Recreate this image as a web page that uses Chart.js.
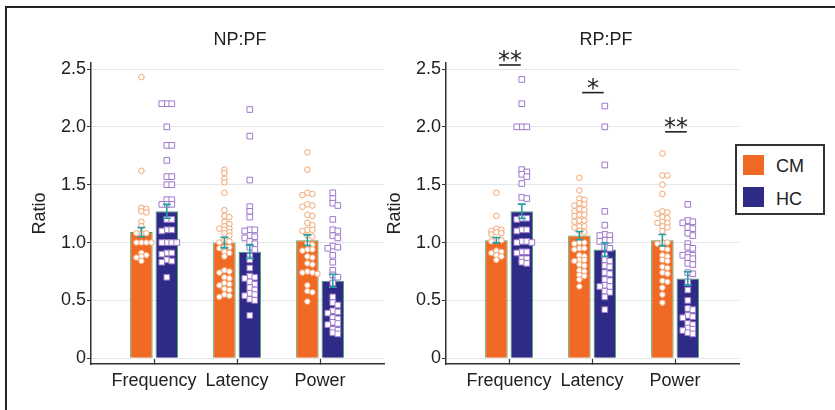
<!DOCTYPE html>
<html>
<head>
<meta charset="utf-8">
<script src="https://cdn.jsdelivr.net/npm/chart.js@4.4.1/dist/chart.umd.min.js"></script>
<style>
  html, body { margin: 0; padding: 0; background: #fff; overflow: hidden; }
  body { width: 835px; height: 410px; position: relative; font-family: "Liberation Sans", Arial, sans-serif; color: #222; }
  .frame { position: absolute; left: 5px; top: 6px; width: 900px; height: 500px; border-top: 2.5px solid #222; border-left: 2.5px solid #222; }
  canvas { position: absolute; top: 0; }
  .title { position: absolute; top: 28.5px; font-size: 18px; line-height: 21px; transform: translateX(-50%); white-space: nowrap; }
  .legend { position: absolute; left: 735px; top: 144px; width: 86px; height: 67px; border: 2px solid #333; background: #fff; }
  .swatch { position: absolute; left: 6px; width: 21px; height: 20px; }
  .legend span { position: absolute; left: 39px; font-size: 18px; line-height: 21px; }
</style>
</head>
<body>
<div class="frame"></div>
<canvas id="np-chart" width="400" height="410" style="left:0"></canvas>
<canvas id="rp-chart" width="400" height="410" style="left:355px"></canvas>
<div class="title" style="left:240px">NP:PF</div>
<div class="title" style="left:606px">RP:PF</div>
<div class="legend">
  <div class="swatch" style="top:9px;background:#F06A25"></div><span style="top:10px">CM</span>
  <div class="swatch" style="top:41px;background:#2E2B87"></div><span style="top:43px">HC</span>
</div>
<script>
const categories = ['Frequency', 'Latency', 'Power'];
const yTickValues = [0, 0.5, 1, 1.5, 2, 2.5];

// NP:PF bars (mean, sem)
const npMeanCM = [1.09, 1.00, 1.02];
const npSemCM = [0.04, 0.046, 0.046];
const npMeanHC = [1.27, 0.92, 0.67];
const npSemHC = [0.06, 0.058, 0.056];

// NP:PF individual subjects
const npFreqCM = [2.43, 1.62, 1.30, 1.29, 1.27, 1.26, 1.18, 1.14, 1.08, 1.08, 1.08, 1.0, 1.0, 1.0, 1.0, 0.91, 0.89, 0.88, 0.87, 0.84];
const npFreqHC = [2.20, 2.20, 2.20, 2.00, 1.84, 1.84, 1.71, 1.57, 1.57, 1.50, 1.50, 1.37, 1.37, 1.33, 1.33, 1.33, 1.20, 1.20, 1.11, 1.11, 1.10, 1.00, 1.00, 1.00, 1.00, 0.91, 0.91, 0.90, 0.85, 0.84, 0.83, 0.70];
const npLatCM = [1.63, 1.60, 1.55, 1.52, 1.43, 1.28, 1.23, 1.22, 1.18, 1.16, 1.14, 1.12, 1.12, 1.11, 1.09, 1.08, 1.06, 1.02, 1.01, 1.0, 0.96, 0.96, 0.95, 0.92, 0.91, 0.88, 0.76, 0.75, 0.74, 0.70, 0.69, 0.65, 0.64, 0.63, 0.60, 0.59, 0.55, 0.54, 0.53];
const npLatHC = [2.15, 1.92, 1.54, 1.31, 1.27, 1.22, 1.11, 1.11, 1.10, 1.06, 1.05, 1.04, 1.01, 0.99, 0.96, 0.94, 0.88, 0.85, 0.78, 0.71, 0.70, 0.69, 0.66, 0.64, 0.61, 0.59, 0.56, 0.55, 0.54, 0.51, 0.50, 0.37];
const npPowCM = [1.78, 1.63, 1.43, 1.42, 1.41, 1.33, 1.32, 1.31, 1.24, 1.23, 1.17, 1.15, 1.11, 1.11, 1.10, 1.06, 1.05, 0.99, 0.98, 0.94, 0.94, 0.93, 0.88, 0.87, 0.82, 0.81, 0.75, 0.74, 0.74, 0.73, 0.63, 0.58, 0.57, 0.49];
const npPowHC = [1.43, 1.38, 1.34, 1.32, 1.20, 1.11, 1.10, 1.06, 1.04, 0.97, 0.96, 0.95, 0.89, 0.83, 0.76, 0.72, 0.70, 0.65, 0.53, 0.48, 0.46, 0.41, 0.40, 0.39, 0.35, 0.34, 0.31, 0.30, 0.29, 0.25, 0.24, 0.22, 0.21];

// RP:PF bars (mean, sem)
const rpMeanCM = [1.02, 1.06, 1.02];
const rpSemCM = [0.023, 0.036, 0.05];
const rpMeanHC = [1.27, 0.94, 0.69];
const rpSemHC = [0.062, 0.058, 0.058];

// RP:PF individual subjects
const rpFreqCM = [1.43, 1.23, 1.12, 1.11, 1.10, 1.09, 1.08, 1.07, 1.02, 1.02, 1.01, 0.93, 0.92, 0.91, 0.89, 0.88, 0.85];
const rpFreqHC = [2.41, 2.20, 2.00, 2.00, 2.00, 1.63, 1.61, 1.59, 1.57, 1.51, 1.39, 1.38, 1.21, 1.21, 1.20, 1.11, 1.11, 1.10, 1.01, 1.01, 1.00, 1.00, 0.92, 0.92, 0.91, 0.86, 0.86, 0.83, 0.82];
const rpLatCM = [1.56, 1.45, 1.38, 1.37, 1.34, 1.33, 1.32, 1.29, 1.28, 1.27, 1.24, 1.24, 1.23, 1.19, 1.19, 1.18, 1.14, 1.14, 1.13, 1.10, 1.09, 1.00, 1.00, 0.99, 0.95, 0.95, 0.94, 0.89, 0.88, 0.85, 0.85, 0.84, 0.81, 0.80, 0.76, 0.75, 0.72, 0.71, 0.68, 0.62];
const rpLatHC = [2.18, 2.00, 1.67, 1.27, 1.15, 1.07, 1.06, 1.06, 1.02, 1.02, 1.01, 0.96, 0.95, 0.89, 0.85, 0.84, 0.80, 0.79, 0.74, 0.73, 0.68, 0.67, 0.63, 0.62, 0.62, 0.58, 0.57, 0.53, 0.42];
const rpPowCM = [1.77, 1.58, 1.58, 1.50, 1.42, 1.27, 1.26, 1.25, 1.22, 1.21, 1.18, 1.17, 1.17, 1.14, 1.13, 1.10, 1.00, 1.00, 0.99, 0.95, 0.94, 0.89, 0.88, 0.85, 0.84, 0.79, 0.78, 0.74, 0.73, 0.67, 0.66, 0.61, 0.55, 0.48];
const rpPowHC = [1.33, 1.19, 1.18, 1.17, 1.13, 1.12, 1.08, 1.06, 0.99, 0.96, 0.95, 0.90, 0.89, 0.89, 0.87, 0.86, 0.82, 0.81, 0.74, 0.73, 0.66, 0.59, 0.50, 0.43, 0.42, 0.37, 0.36, 0.35, 0.30, 0.29, 0.26, 0.25, 0.24, 0.22, 0.21];

// significance marks (RP:PF only)
const rpSigLabels = ['**', '*', '**'];
const rpSigLevels = [2.535, 2.296, 1.957];

const ORANGE = '#F06A25';
const NAVY = '#2E2B87';
const TEAL = '#22A0A4';
const CAT_PCT = 0.612;
const BAR_PCT = 0.886;
const PX_PER_X = 83;
const PX_PER_Y = 115.7;

Chart.defaults.font.family = '"Liberation Sans", Arial, sans-serif';
Chart.defaults.color = '#222';

// simple beeswarm: only points that nearly share a value get pushed sideways
const swarm = (values, step) => {
  const placed = [];
  [...values].sort((a, b) => b - a).forEach(v => {
    const py = v * PX_PER_Y;
    let best = null;
    for (const k of [0, 1, -1, 2, -2]) {
      const px = k * step;
      const gap = Math.min(Infinity, ...placed.map(p => Math.hypot(p.px - px, 1.8 * (p.py - py))));
      if (gap >= step) { best = { px, gap }; break; }
      if (!best || gap > best.gap) best = { px, gap };
    }
    placed.push({ px: best.px, py, y: v });
  });
  return placed.map(p => ({ dx: p.px / PX_PER_X, y: p.y }));
};

const swarmData = (lists, side, step) =>
  lists.flatMap((vals, i) => swarm(vals, step).map(p => ({ x: i + 1 + side * CAT_PCT / 4 + p.dx, y: p.y })));

const errorBars = {
  id: 'errorBars',
  afterDatasetsDraw(chart) {
    const { ctx, scales: { y } } = chart;
    ctx.save();
    ctx.strokeStyle = TEAL;
    ctx.lineWidth = 1.6;
    chart.data.datasets.forEach((ds, i) => {
      if (!ds.sem) return;
      chart.getDatasetMeta(i).data.forEach((bar, j) => {
        const top = y.getPixelForValue(ds.data[j].y + ds.sem[j]);
        const bot = y.getPixelForValue(ds.data[j].y - ds.sem[j]);
        ctx.beginPath();
        ctx.moveTo(bar.x, top); ctx.lineTo(bar.x, bot);
        ctx.moveTo(bar.x - 4, top); ctx.lineTo(bar.x + 4, top);
        ctx.moveTo(bar.x - 4, bot); ctx.lineTo(bar.x + 4, bot);
        ctx.stroke();
      });
    });
    ctx.restore();
  }
};

const sigMarks = (labels, levels) => ({
  id: 'sigMarks',
  afterDatasetsDraw(chart) {
    if (!labels) return;
    const { ctx, scales: { x, y } } = chart;
    ctx.save();
    ctx.strokeStyle = '#222';
    ctx.fillStyle = '#222';
    ctx.lineWidth = 1.6;
    ctx.font = '24px "DejaVu Sans"';
    ctx.textAlign = 'center';
    ctx.textBaseline = 'alphabetic';
    labels.forEach((lab, i) => {
      const yy = y.getPixelForValue(levels[i]);
      const x1 = x.getPixelForValue(i + 1 - 0.12);
      const x2 = x.getPixelForValue(i + 1 + 0.14);
      ctx.beginPath();
      ctx.moveTo(x1, yy); ctx.lineTo(x2, yy);
      ctx.stroke();
      ctx.fillText(lab, (x1 + x2) / 2, yy + 3.5);
    });
    ctx.restore();
  }
});

const buildPanel = (canvasId, meanCM, semCM, meanHC, semHC, ptsCM, ptsHC, sigLabels, sigLevels) => {
  const ctx = document.getElementById(canvasId).getContext('2d');
  return new Chart(ctx, {
    type: 'bar',
    data: {
      datasets: [
        {
          type: 'scatter', label: 'CM points', order: 1,
          data: swarmData(ptsCM, -1, 5),
          pointStyle: 'circle', pointRadius: 2.8, pointBorderWidth: 1,
          pointBorderColor: '#F3A470', pointBackgroundColor: '#fff'
        },
        {
          type: 'scatter', label: 'HC points', order: 1,
          data: swarmData(ptsHC, 1, 5),
          pointStyle: 'rect', pointRadius: 4, pointBorderWidth: 1,
          pointBorderColor: '#9E78CC', pointBackgroundColor: '#fff'
        },
        {
          label: 'CM', order: 2,
          data: meanCM.map((m, i) => ({ x: i + 1, y: m })), sem: semCM,
          backgroundColor: ORANGE, borderColor: '#4FA36B', borderWidth: 1,
          categoryPercentage: CAT_PCT, barPercentage: BAR_PCT
        },
        {
          label: 'HC', order: 2,
          data: meanHC.map((m, i) => ({ x: i + 1, y: m })), sem: semHC,
          backgroundColor: NAVY, borderColor: '#4FA36B', borderWidth: 1,
          categoryPercentage: CAT_PCT, barPercentage: BAR_PCT
        }
      ]
    },
    options: {
      responsive: false,
      animation: false,
      events: [],
      layout: { padding: { top: 63, right: 16, left: 0, bottom: 0 } },
      plugins: { legend: { display: false }, tooltip: { enabled: false } },
      scales: {
        x: {
          type: 'linear', min: 0.24, max: 3.77, offset: false,
          afterBuildTicks: s => { s.ticks = categories.map((c, i) => ({ value: i + 1 })); },
          afterFit: s => { s.height = 46; },
          ticks: { callback: v => categories[Math.round(v) - 1], font: { size: 18 }, padding: 11, maxRotation: 0, autoSkip: false },
          grid: { offset: false, drawOnChartArea: false, drawTicks: true, tickLength: -5, tickColor: '#333', tickWidth: 1.2 },
          border: { color: '#333', width: 1.5 }
        },
        y: {
          min: -0.05, max: 2.552,
          afterBuildTicks: s => { s.ticks = yTickValues.map(v => ({ value: v })); },
          afterFit: s => { s.width = 91; },
          ticks: { callback: v => (v === 0 ? '0' : v.toFixed(1)), font: { size: 18 }, padding: 1 },
          grid: { color: '#E3E7EA', lineWidth: 1, tickLength: 4, tickColor: '#333' },
          border: { color: '#333', width: 1.5 },
          title: { display: true, text: 'Ratio', font: { size: 18 }, padding: { top: 29, bottom: 0 } }
        }
      }
    },
    plugins: [errorBars, sigMarks(sigLabels, sigLevels)]
  });
};

buildPanel('np-chart', npMeanCM, npSemCM, npMeanHC, npSemHC,
  [npFreqCM, npLatCM, npPowCM], [npFreqHC, npLatHC, npPowHC], null, null);
buildPanel('rp-chart', rpMeanCM, rpSemCM, rpMeanHC, rpSemHC,
  [rpFreqCM, rpLatCM, rpPowCM], [rpFreqHC, rpLatHC, rpPowHC], rpSigLabels, rpSigLevels);
</script>
</body>
</html>
